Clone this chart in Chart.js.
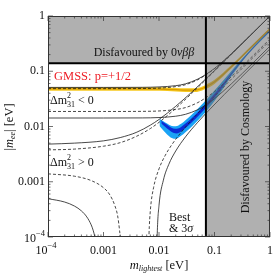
<!DOCTYPE html>
<html>
<head>
<meta charset="utf-8">
<script src="https://cdn.jsdelivr.net/npm/chart.js@4.4.1/dist/chart.umd.min.js"></script>
<style>
  html, body { margin: 0; padding: 0; background: #fff; }
</style>
</head>
<body>
<canvas id="mee" width="273" height="274"></canvas>
<script>
// axis ticks
const tickValues = [1e-4, 1e-3, 1e-2, 1e-1, 1];
const tickLabels = [["10", "−4"], "0.001", "0.01", "0.1", "1"];

// excluded regions
const bound0vbb = 0.14;
const boundCosmo = 0.07;

// inverted ordering (dashed = best fit, solid = 3 sigma), [m_lightest, |m_ee|]
const ioUpperBest = [[1e-4, 0.0485], [0.001, 0.0485], [0.005, 0.0487], [0.01, 0.0495], [0.02, 0.0527], [0.03, 0.0571], [0.05, 0.0702], [0.07, 0.086], [0.1, 0.1111], [0.2, 0.2058], [0.5, 0.5023], [1, 1.0012]];
const ioUpper3s = [[1e-4, 0.051], [0.001, 0.051], [0.005, 0.0512], [0.01, 0.052], [0.02, 0.0548], [0.03, 0.0592], [0.05, 0.0721], [0.07, 0.0877], [0.1, 0.1124], [0.2, 0.2064], [0.5, 0.5026], [1, 1.0013]];
const ioLowerBest = [[1e-4, 0.0187], [0.001, 0.0187], [0.005, 0.0188], [0.01, 0.0191], [0.02, 0.0203], [0.03, 0.022], [0.05, 0.0271], [0.07, 0.0332], [0.1, 0.0428], [0.2, 0.0793], [0.5, 0.1934], [1, 0.3855]];
const ioLower3s = [[1e-4, 0.01425], [0.001, 0.01425], [0.005, 0.0143], [0.01, 0.01453], [0.02, 0.01535], [0.03, 0.01662], [0.05, 0.02015], [0.07, 0.02451], [0.1, 0.03186], [0.2, 0.05875], [0.5, 0.1432], [1, 0.2854]];

// normal ordering
const noUpperBest = [[1e-4, 0.00377], [3e-4, 0.0039], [1e-3, 0.0044], [2e-3, 0.0051], [4e-3, 0.0067], [7e-3, 0.0092], [0.01, 0.0119], [0.02, 0.0213], [0.04, 0.0409], [0.07, 0.0707], [0.1, 0.1006], [0.2, 0.2003], [0.5, 0.5002], [1, 1.0]];
const noUpper3s = [[1e-4, 0.0048], [3e-4, 0.005], [1e-3, 0.0055], [2e-3, 0.0063], [4e-3, 0.0079], [7e-3, 0.0106], [0.01, 0.0134], [0.02, 0.0232], [0.04, 0.043], [0.07, 0.073], [0.1, 0.103], [0.2, 0.203], [0.5, 0.502], [1, 1.0]];
const noLowerBestA = [[1e-4, 0.00139], [3e-4, 0.00126], [6e-4, 0.00105], [1e-3, 0.00078], [1.3e-3, 0.00058], [1.6e-3, 0.00037], [1.8e-3, 0.00024], [1.95e-3, 0.00013], [2.0e-3, 0.0001], [2.05e-3, 0.00007]];
const noLower3sA = [[1e-4, 0.000494], [2e-4, 0.000429], [3e-4, 0.000363], [4e-4, 0.000297], [5e-4, 0.000231], [6e-4, 0.000166], [6.5e-4, 0.000133], [7e-4, 0.0001], [7.3e-4, 0.00008]];
const noLowerBestB = [[0.0065, 0.00006], [0.0066, 0.00011], [0.007, 0.00031], [0.008, 0.00079], [0.01, 0.00171], [0.013, 0.00302], [0.017, 0.00467], [0.025, 0.00783], [0.04, 0.01351], [0.07, 0.02455], [0.12, 0.04265], [0.25, 0.08935], [0.5, 0.1789], [1, 0.358]];
const noLower3sB = [[0.0091, 0.00004], [0.0093, 0.000115], [0.01, 0.000374], [0.012, 0.00107], [0.015, 0.00206], [0.02, 0.0036], [0.03, 0.00649], [0.05, 0.01195], [0.08, 0.01985], [0.15, 0.03795], [0.3, 0.07635], [0.6, 0.1529], [1, 0.255]];

// GMSS band (yellow)
const gmssX = [1e-4, 0.003, 0.01, 0.02, 0.03, 0.045, 0.06, 0.07, 0.1, 0.2, 0.4, 1];
const gmssHi = [0.0515, 0.0515, 0.0512, 0.05, 0.049, 0.049, 0.053, 0.057, 0.07, 0.128, 0.25, 0.61];
const gmssLo = [0.0445, 0.0445, 0.0442, 0.043, 0.042, 0.042, 0.045, 0.048, 0.059, 0.112, 0.228, 0.56];

// blue band, outer (light) and inner (dark)
const blueOutX = [0.0102, 0.012, 0.014, 0.017, 0.02, 0.025, 0.03, 0.04, 0.05, 0.07, 0.1, 0.15, 0.2, 0.4, 1];
const blueOutHi = [0.0138, 0.0125, 0.0113, 0.0102, 0.0101, 0.0112, 0.013, 0.0168, 0.021, 0.03, 0.045, 0.072, 0.1, 0.22, 0.58];
const blueOutLo = [0.0102, 0.0085, 0.0072, 0.0062, 0.006, 0.0068, 0.0079, 0.0102, 0.0128, 0.0185, 0.029, 0.052, 0.08, 0.2, 0.52];
const blueInX = [0.011, 0.013, 0.015, 0.018, 0.021, 0.025, 0.03, 0.04, 0.05, 0.07, 0.1, 0.15, 0.2, 0.4, 1];
const blueInHi = [0.0127, 0.0113, 0.0102, 0.0092, 0.0091, 0.0098, 0.0113, 0.0146, 0.0182, 0.026, 0.039, 0.064, 0.092, 0.212, 0.56];
const blueInLo = [0.0113, 0.0098, 0.0087, 0.0077, 0.0075, 0.0081, 0.0094, 0.0122, 0.0152, 0.0216, 0.033, 0.057, 0.086, 0.205, 0.54];

const ink = "#1a1a1a";
const serif = '"Liberation Serif", "DejaVu Serif", serif';
const clear = "rgba(0,0,0,0)";
const shade = "rgba(105,105,105,0.53)";

const pts = (pairs) => pairs.map(([x, y]) => ({ x, y }));
const zip = (xs, ys) => xs.map((x, i) => ({ x, y: ys[i] }));

function curve(pairs, dashed) {
  return {
    data: pts(pairs),
    borderColor: ink,
    borderWidth: 0.8,
    borderDash: dashed ? [3, 2] : [],
    pointRadius: 0,
    fill: false,
    cubicInterpolationMode: "monotone",
  };
}

function bandEdge(xs, ys, color) {
  return {
    data: zip(xs, ys),
    borderColor: clear,
    backgroundColor: color || clear,
    pointRadius: 0,
    fill: color ? "+1" : false,
    cubicInterpolationMode: "monotone",
  };
}

const datasets = [
  { data: [{ x: 1e-4, y: bound0vbb }, { x: 1, y: bound0vbb }], borderColor: "#000", borderWidth: 2, pointRadius: 0, fill: false },
  { data: [{ x: boundCosmo, y: 1e-4 }, { x: boundCosmo, y: 1 }], borderColor: "#000", borderWidth: 2, pointRadius: 0, fill: false },
  { data: [{ x: 1e-4, y: bound0vbb }, { x: boundCosmo, y: bound0vbb }], borderColor: clear, backgroundColor: shade, pointRadius: 0, fill: "end" },
  { data: [{ x: boundCosmo, y: 1 }, { x: 1, y: 1 }], borderColor: clear, backgroundColor: shade, pointRadius: 0, fill: "start" },
  curve(ioUpperBest, true),
  curve(ioUpper3s, false),
  curve(ioLowerBest, true),
  curve(ioLower3s, false),
  curve(noUpperBest, true),
  curve(noUpper3s, false),
  curve(noLowerBestA, true),
  curve(noLower3sA, false),
  curve(noLowerBestB, true),
  curve(noLower3sB, false),
  {
    data: zip(gmssX, gmssHi.map((v, i) => Math.sqrt(v * gmssLo[i]))),
    borderColor: "#d99a00", borderWidth: 1.2, pointRadius: 0, fill: false, cubicInterpolationMode: "monotone",
  },
  bandEdge(blueInX, blueInHi, "#0b2bd6"),
  bandEdge(blueInX, blueInLo),
  bandEdge(blueOutX, blueOutHi, "#1aa3f5"),
  bandEdge(blueOutX, blueOutLo),
  bandEdge(gmssX, gmssHi, "#f7c91e"),
  bandEdge(gmssX, gmssLo),
];

// draw a run of text pieces; each piece: t, size, italic, dy, stay (no advance)
function rich(ctx, parts, x, y, align) {
  let w = 0;
  parts.forEach((p) => {
    ctx.font = `${p.italic ? "italic " : ""}${p.size || 12}px ${serif}`;
    p.w = ctx.measureText(p.t).width;
    if (!p.stay) w += p.w;
  });
  let cx = align === "center" ? x - w / 2 : align === "right" ? x - w : x;
  ctx.textBaseline = "middle";
  ctx.textAlign = "left";
  parts.forEach((p) => {
    ctx.font = `${p.italic ? "italic " : ""}${p.size || 12}px ${serif}`;
    ctx.fillText(p.t, cx, y + (p.dy || 0));
    if (!p.stay) cx += p.w;
  });
}

const decor = {
  id: "decor",
  afterDraw(chart) {
    const { ctx, chartArea: a, scales } = chart;
    const sx = scales.x, sy = scales.y;
    ctx.save();

    // frame and ticks
    ctx.strokeStyle = "#333";
    ctx.lineWidth = 1;
    ctx.strokeRect(a.left + 0.5, a.top + 0.5, a.right - a.left - 1, a.bottom - a.top - 1);
    ctx.lineWidth = 0.7;
    ctx.beginPath();
    for (let d = -4; d <= 0; d++) {
      for (let k = 1; k <= 9; k++) {
        const v = k * Math.pow(10, d);
        if (v > 1.0001) break;
        const len = k === 1 ? 5 : 2.5;
        const px = sx.getPixelForValue(v);
        ctx.moveTo(px, a.bottom); ctx.lineTo(px, a.bottom - len);
        ctx.moveTo(px, a.top); ctx.lineTo(px, a.top + len);
        const py = sy.getPixelForValue(v);
        ctx.moveTo(a.left, py); ctx.lineTo(a.left + len, py);
        ctx.moveTo(a.right, py); ctx.lineTo(a.right - len, py);
      }
    }
    ctx.stroke();

    // tick labels
    ctx.fillStyle = "#111";
    tickValues.forEach((v, i) => {
      const lab = tickLabels[i];
      const parts = Array.isArray(lab)
        ? [{ t: lab[0], size: 12 }, { t: lab[1], size: 8.5, dy: -5 }]
        : [{ t: lab, size: 12 }];
      rich(ctx, parts, 45, sy.getPixelForValue(v) + (Array.isArray(lab) ? 2 : 0), "right");
      rich(ctx, parts.map((p) => ({ ...p })), sx.getPixelForValue(v) - (Array.isArray(lab) ? 2 : 0), 251, "center");
    });

    // axis titles
    rich(ctx, [{ t: "m", italic: true, size: 12.5 }, { t: "lightest", italic: true, size: 8, dy: 2.5 }, { t: " [eV]", size: 12.5 }], 159, 266, "center");
    ctx.save();
    ctx.translate(10, 127);
    ctx.rotate(-Math.PI / 2);
    rich(ctx, [{ t: "|", size: 12.5 }, { t: "m", italic: true, size: 12.5 }, { t: "ee", italic: true, size: 8, dy: 2.5 }, { t: "| [eV]", size: 12.5 }], 0, 0, "center");
    ctx.restore();

    // region labels
    rich(ctx, [{ t: "Disfavoured by 0" }, { t: "νββ", italic: true }], 144, 52.5, "center");
    ctx.save();
    ctx.translate(246, 147);
    ctx.rotate(-Math.PI / 2);
    rich(ctx, [{ t: "Disfavoured by Cosmology" }], 0, 0, "center");
    ctx.restore();

    ctx.fillStyle = "#ee1c25";
    rich(ctx, [{ t: "GMSS: p=+1/2", size: 12.5 }], 54, 77, "left");

    ctx.fillStyle = "#111";
    const dm = (sign) => [{ t: "Δm" }, { t: "2", size: 8, dy: -5, stay: true }, { t: "31", size: 8, dy: 4 }, { t: ` ${sign} 0` }];
    rich(ctx, dm("<"), 50, 101, "left");
    rich(ctx, dm(">"), 50, 163, "left");
    rich(ctx, [{ t: "Best" }], 169, 218, "left");
    rich(ctx, [{ t: "& 3" }, { t: "σ", italic: true }], 169, 229, "left");
    ctx.restore();
  },
};

new Chart(document.getElementById("mee"), {
  type: "line",
  data: { datasets },
  options: {
    responsive: false,
    animation: false,
    events: [],
    layout: { padding: { top: 16, right: 3, left: 0, bottom: 0 } },
    plugins: { legend: { display: false }, tooltip: { enabled: false } },
    scales: {
      x: {
        type: "logarithmic", min: 1e-4, max: 1,
        ticks: { display: false }, grid: { display: false }, border: { display: false },
        afterFit: (s) => { s.height = 37; },
      },
      y: {
        type: "logarithmic", min: 1e-4, max: 1,
        ticks: { display: false }, grid: { display: false }, border: { display: false },
        afterFit: (s) => { s.width = 48; },
      },
    },
  },
  plugins: [decor],
});
</script>
</body>
</html>
